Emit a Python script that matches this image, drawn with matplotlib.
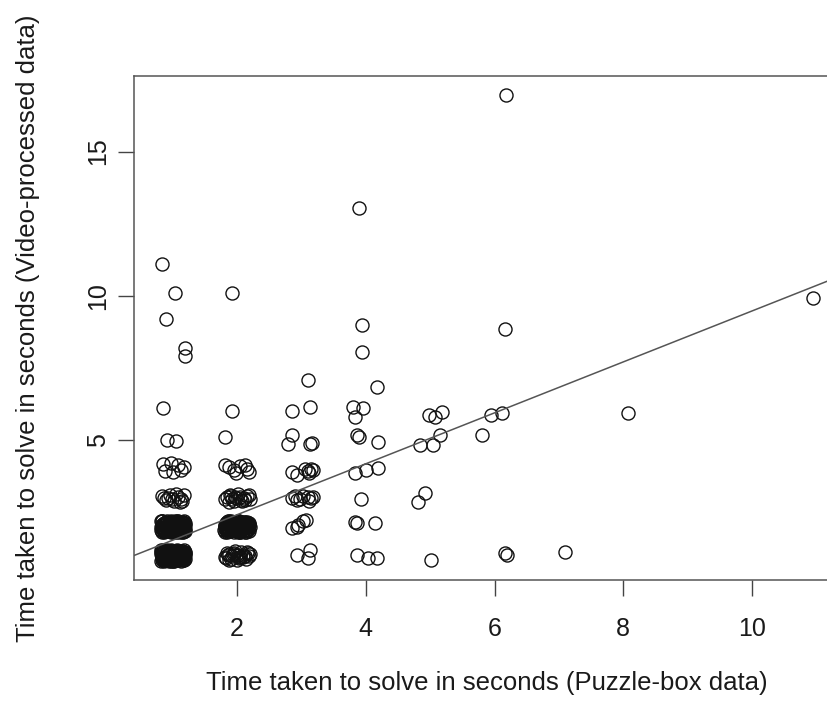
import matplotlib
matplotlib.use("Agg")
import matplotlib.pyplot as plt

plt.rcParams["font.family"] = ["Liberation Sans", "DejaVu Sans"]

# Puzzle-box time (x) vs video-processed time (y), jittered values.
# Column near 1 s
puzzle_c1 = [
    0.84, 1.03, 0.89, 1.19, 1.20, 0.85, 0.92, 1.06,
    0.85, 0.97, 1.09, 0.88, 1.01, 1.13, 1.18,
    0.84, 0.90, 0.96, 1.02, 1.08, 1.13, 1.17, 0.87, 1.05, 1.11,
    0.93, 1.15, 0.99,
]
video_c1 = [
    11.1, 10.1, 9.2, 8.2, 7.9, 6.1, 5.0, 4.97,
    4.18, 4.20, 4.12, 3.92, 3.88, 3.95, 4.05,
    3.05, 2.92, 3.10, 2.88, 3.02, 2.95, 3.08, 2.98, 3.12, 2.87,
    3.00, 2.90, 2.94,
]
puzzle_c1_2s = [
    0.83, 0.90, 0.98, 1.06, 1.14, 1.19, 0.86, 0.94, 1.02, 1.10, 1.17,
    0.82, 0.89, 0.97, 1.05, 1.13, 1.18, 0.85, 0.93, 1.01, 1.09, 1.16,
    0.88, 0.96, 1.04, 1.12, 0.84, 0.92, 1.00, 1.08, 1.15,
    0.87, 0.95, 1.03, 1.11, 1.19, 0.91, 0.99, 1.07, 1.14,
    0.86, 0.93, 1.01, 1.09, 1.16, 0.83, 0.91, 0.99, 1.07, 1.15,
    0.85, 0.92, 1.00, 1.08, 1.17, 0.84, 0.95, 1.03, 1.11, 1.18,
    0.87, 0.94, 1.02, 1.10, 1.19, 0.82, 0.90, 0.97, 1.06, 1.14,
    0.88, 0.96, 1.04, 1.12, 1.18, 0.85, 0.93, 1.01, 1.09, 1.16,
    1.17, 1.09, 1.04, 0.99, 0.93, 0.87, 0.84,
    1.19, 1.13, 1.07, 1.03, 0.96, 0.91, 0.82,
    1.16, 1.11, 1.08, 1.02, 0.98, 0.89, 0.86,
    1.18, 1.14, 1.10, 1.05, 0.94, 0.90, 0.83,
    1.17, 1.15, 1.06, 1.01, 0.97, 0.92, 0.85,
    1.12, 1.04, 1.00, 0.95, 0.88,
]
video_c1_2s = [
    1.81, 1.84, 1.80, 1.83, 1.82, 1.86, 1.90, 1.93, 1.88, 1.91, 1.94,
    1.97, 2.00, 1.96, 1.99, 2.01, 1.98, 2.05, 2.07, 2.04, 2.08, 2.06,
    2.12, 2.14, 2.11, 2.13, 2.18, 2.19, 2.17, 2.20, 2.16,
    1.86, 2.02, 1.95, 2.10, 1.92, 2.03, 1.89, 2.15, 1.98,
    1.82, 1.85, 1.81, 1.84, 1.83, 1.91, 1.93, 1.87, 1.90, 1.89,
    1.98, 1.96, 2.01, 1.95, 1.99, 2.05, 2.08, 2.04, 2.07, 2.03,
    2.12, 2.14, 2.10, 2.13, 2.11, 2.18, 2.16, 2.19, 2.17, 2.15,
    1.86, 2.00, 1.92, 2.06, 1.97, 2.09, 1.88, 2.15, 1.94, 2.02,
    1.84, 2.02, 2.15, 1.88, 2.07, 1.96, 2.19,
    2.05, 1.87, 2.18, 1.94, 2.13, 2.00, 1.89,
    2.16, 1.93, 2.08, 1.82, 2.17, 1.99, 1.91,
    1.95, 2.11, 1.81, 2.14, 1.86, 2.09, 2.04,
    2.20, 2.03, 1.90, 2.12, 1.92, 1.97, 2.06,
    2.01, 2.18, 1.85, 1.98, 2.10,
]
puzzle_c1_1s = [
    0.82, 0.89, 0.97, 1.05, 1.13, 1.18, 0.85, 0.93, 1.01, 1.09, 1.16,
    0.83, 0.90, 0.98, 1.06, 1.14, 1.19, 0.86, 0.94, 1.02, 1.10, 1.17,
    0.88, 0.96, 1.04, 1.12, 0.84, 0.91, 0.99, 1.07, 1.15,
    0.87, 0.95, 1.03, 1.11, 1.18, 0.90, 1.00, 1.08, 1.16,
    0.82, 0.93, 1.05, 1.13, 1.19,
    0.86, 0.93, 1.01, 1.09, 1.16, 0.83, 0.91, 0.99, 1.07, 1.15,
    0.85, 0.92, 1.00, 1.08, 1.17, 0.84, 0.95, 1.03, 1.11, 1.18,
    0.87, 0.94, 1.02, 1.10, 1.19, 0.82, 0.90, 0.97, 1.06, 1.14,
    0.88, 0.96, 1.04, 1.12, 1.18, 0.85, 0.93, 1.01, 1.09, 1.16,
    0.84, 0.88, 0.95, 1.00, 1.04, 1.12, 1.17,
    0.82, 0.91, 0.96, 1.03, 1.07, 1.13, 1.19,
    0.86, 0.89, 0.98, 1.02, 1.08, 1.11, 1.16,
    0.83, 0.90, 0.94, 1.05, 1.10, 1.14, 1.18,
    0.85, 0.92, 0.97, 1.01, 1.06, 1.15, 1.17,
    0.87, 0.93, 0.99, 1.04, 1.09,
]
video_c1_1s = [
    0.81, 0.83, 0.80, 0.84, 0.82, 0.85, 0.89, 0.91, 0.88, 0.92, 0.90,
    0.96, 0.98, 0.95, 0.99, 0.97, 1.00, 1.03, 1.05, 1.02, 1.06, 1.04,
    1.10, 1.12, 1.09, 1.11, 1.16, 1.18, 1.15, 1.19, 1.17,
    0.86, 1.01, 0.93, 1.08, 0.94, 1.07, 0.87, 1.14, 1.00,
    1.13, 1.02, 0.84, 0.97, 1.10,
    0.82, 0.84, 0.81, 0.85, 0.83, 0.90, 0.93, 0.87, 0.91, 0.89,
    0.98, 0.96, 1.01, 0.95, 0.99, 1.05, 1.07, 1.04, 1.08, 1.03,
    1.12, 1.14, 1.10, 1.13, 1.11, 1.18, 1.16, 1.19, 1.17, 1.15,
    0.86, 1.00, 0.92, 1.06, 0.97, 1.09, 0.88, 1.15, 0.94, 1.02,
    0.83, 0.99, 1.13, 0.87, 1.06, 0.95, 1.18,
    1.04, 0.86, 1.17, 0.93, 1.12, 1.01, 0.88,
    1.15, 0.92, 1.07, 0.81, 1.16, 0.98, 0.90,
    0.94, 1.10, 0.80, 1.14, 0.85, 1.08, 1.03,
    1.19, 1.02, 0.89, 1.12, 0.91, 0.96, 1.07,
    1.01, 1.17, 0.84, 0.97, 1.13,
]

# Column near 2 s
puzzle_c2 = [
    1.93, 1.92, 1.81,
    1.82, 1.88, 1.95, 2.05, 2.12, 2.18, 1.99, 2.15,
    1.82, 1.89, 1.96, 2.04, 2.11, 2.18, 1.85, 1.93, 2.01, 2.08, 2.15, 1.87, 1.99, 2.13,
    1.91, 2.06, 2.20, 1.97,
    1.81, 1.88, 1.95, 2.03, 2.10, 2.18, 1.84, 1.92, 2.00, 2.07,
    2.14, 2.20, 1.86, 1.97, 2.05, 2.12, 1.90, 2.01, 2.16, 1.83,
    1.94, 2.09, 1.99, 2.17, 1.87, 2.04,
]
video_c2 = [
    10.1, 6.0, 5.1,
    4.12, 4.05, 3.95, 4.10, 4.15, 3.88, 3.85, 4.00,
    2.96, 3.08, 2.90, 3.04, 2.98, 3.10, 3.02, 2.94, 3.12, 2.88, 3.05, 2.86, 3.00, 2.92,
    3.06, 2.93, 2.97, 3.03,
    0.95, 0.86, 1.10, 0.90, 1.02, 0.97, 1.08, 0.98, 0.84, 1.12,
    0.88, 1.05, 1.00, 1.15, 0.93, 0.99, 0.87, 1.03, 1.13, 0.91,
    1.06, 0.94, 1.01, 1.09, 1.04, 0.96,
]
puzzle_c2_2s = [
    1.81, 1.88, 1.96, 2.04, 2.12, 2.19, 1.84, 1.92, 2.00, 2.08, 2.16,
    1.82, 1.90, 1.98, 2.06, 2.14, 2.20, 1.86, 1.94, 2.02, 2.10, 2.18,
    1.83, 1.91, 1.99, 2.07, 2.15, 1.87, 1.95, 2.03, 2.11, 2.17,
    1.85, 1.93, 2.01, 2.09, 2.17, 1.82, 1.89, 1.97, 2.05, 2.13,
    1.84, 1.92, 2.00, 2.08, 2.19, 1.86, 1.94, 2.02, 2.11, 2.16,
    1.82, 1.86, 1.93, 1.98, 2.02, 2.10, 2.15,
    1.80, 1.89, 1.94, 2.01, 2.05, 2.11, 2.19,
    1.84, 1.87, 1.96, 2.00, 2.06, 2.09, 2.14,
    1.81, 1.88, 1.92, 2.03, 2.08, 2.12, 2.18,
    1.83, 1.90, 1.95, 1.99, 2.04, 2.13, 2.17,
    1.85, 1.91, 1.97, 2.07, 2.16,
]
video_c2_2s = [
    1.82, 1.85, 1.81, 1.84, 1.83, 1.86, 1.92, 1.90, 1.94, 1.91, 1.93,
    2.00, 1.98, 2.01, 1.97, 2.02, 1.99, 2.07, 2.09, 2.06, 2.08, 2.05,
    2.14, 2.16, 2.13, 2.15, 2.12, 2.19, 1.88, 2.18, 1.96, 2.10,
    1.83, 1.87, 1.82, 1.86, 1.89, 1.95, 2.03, 1.93, 2.04, 1.96,
    2.11, 2.13, 2.17, 2.12, 2.08, 2.18, 2.02, 1.99, 2.15, 1.90,
    2.01, 1.85, 2.14, 1.90, 2.18, 1.95, 2.06,
    1.88, 2.11, 1.97, 2.19, 1.83, 2.08, 2.02,
    2.16, 1.93, 2.04, 1.86, 2.12, 1.99, 1.81,
    2.07, 1.92, 2.17, 1.84, 2.10, 1.96, 2.13,
    1.89, 2.20, 1.94, 2.05, 1.82, 2.15, 1.98,
    2.09, 1.87, 2.03, 1.91, 2.16,
]

# Column near 3 s
puzzle_c3 = [
    3.10, 2.85, 3.14, 2.86, 2.80, 3.13, 3.16,
    2.86, 2.93, 3.10, 3.15, 3.12, 3.05, 3.18,
    2.86, 2.93, 3.03, 3.10, 3.15, 2.90, 3.12, 3.18, 2.98,
    2.85, 2.93, 3.02, 3.07, 2.95,
    2.93, 3.13, 3.10,
]
video_c3 = [
    7.08, 6.0, 6.15, 5.18, 4.86, 4.86, 4.90,
    3.90, 3.80, 3.92, 4.00, 3.85, 3.98, 3.95,
    2.98, 2.92, 3.05, 3.02, 2.98, 3.05, 2.90, 3.04, 2.95,
    1.95, 2.00, 2.20, 2.22, 2.05,
    1.02, 1.19, 0.91,
]

# Column near 4 s
puzzle_c4 = [
    3.89, 3.94, 3.94, 4.17, 3.80, 3.95, 3.83, 3.87, 3.90, 4.19,
    3.83, 4.00, 4.19, 3.92, 3.83, 3.86, 4.15, 3.86, 4.03, 4.17,
]
video_c4 = [
    13.05, 9.0, 8.05, 6.84, 6.15, 6.11, 5.80, 5.18, 5.10, 4.93,
    3.86, 3.96, 4.03, 2.96, 2.16, 2.13, 2.13, 1.02, 0.91, 0.91,
]

# Five seconds and above
puzzle_c5 = [
    4.99, 5.07, 5.18, 4.84, 5.04, 5.15, 4.81, 4.92, 5.02,
    5.81, 5.95, 6.11, 6.18, 6.17, 6.16, 6.19, 7.10, 8.07, 10.94,
]
video_c5 = [
    5.87, 5.80, 5.97, 4.83, 4.83, 5.18, 2.85, 3.17, 0.84,
    5.18, 5.87, 5.94, 16.96, 8.85, 1.08, 1.02, 1.12, 5.94, 9.92,
]

# abline of the linear fit
fit_intercept = 0.645
fit_slope = 0.883

x_ticks = [2, 4, 6, 8, 10]
y_ticks = [5, 10, 15]

puzzle = puzzle_c1 + puzzle_c1_2s + puzzle_c1_1s + puzzle_c2 + puzzle_c2_2s + puzzle_c3 + puzzle_c4 + puzzle_c5
video = video_c1 + video_c1_2s + video_c1_1s + video_c2 + video_c2_2s + video_c3 + video_c4 + video_c5

fig = plt.figure(figsize=(8.28, 7.08), dpi=100)
fig.patch.set_facecolor("white")
# the plot region runs past the right edge of the image, as in the original export
ax = fig.add_axes([0.1618, 0.1808, 0.853, 0.7119])

ax.plot(puzzle, video, linestyle="none", marker="o", markersize=9.4,
        markerfacecolor="none", markeredgecolor="#111111", markeredgewidth=1.0)
ax.axline((0, fit_intercept), slope=fit_slope, color="#555555", linewidth=1.1)

ax.set_xlim(0.40, 11.37)
ax.set_ylim(0.15, 17.62)
ax.set_xticks(x_ticks)
ax.set_yticks(y_ticks)

for spine in ax.spines.values():
    spine.set_color("#555555")
    spine.set_linewidth(1.1)

ax.tick_params(axis="both", direction="out", length=11.5, width=1.0, color="#444444",
               labelsize=18, labelcolor="#1a1a1a")
ax.tick_params(axis="x", pad=15)
ax.tick_params(axis="y", pad=6, labelrotation=90)
for lab in ax.get_yticklabels():
    lab.set_va("center")

ax.set_xlabel("Time taken to solve in seconds (Puzzle-box data)", fontsize=18.5,
              color="#1a1a1a", va="center")
ax.set_ylabel("Time taken to solve in seconds (Video-processed data)", fontsize=18.5,
              color="#1a1a1a", va="center")
ax.xaxis.set_label_coords(0.5, -0.204)
ax.yaxis.set_label_coords(-0.150, 0.5)

fig.savefig("out.png", dpi=100)
